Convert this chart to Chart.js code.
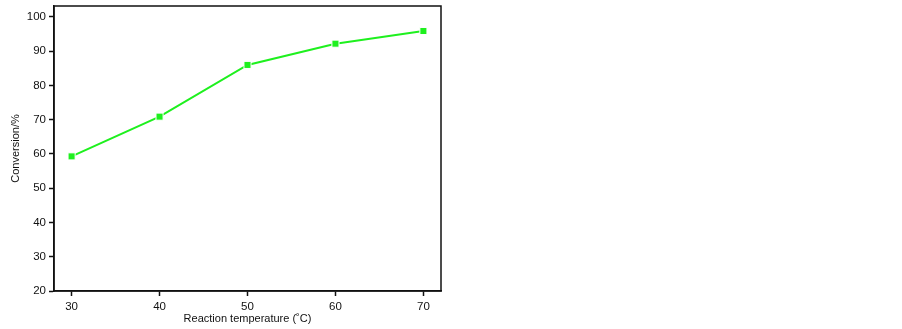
<!DOCTYPE html>
<html>
<head>
<meta charset="utf-8">
<script src="https://cdn.jsdelivr.net/npm/chart.js@4/dist/chart.umd.min.js"></script>
<style>
  html, body { margin: 0; padding: 0; background: #fff; }
  .wrap { width: 902px; height: 329px; position: relative; }
</style>
</head>
<body>
<div class="wrap"><canvas id="myChart"></canvas></div>
<script>
const temperatures=[30,40,50,60,70];
const conversion=[59.3,70.9,86.0,92.2,95.9];
const xTicks=[30,40,50,60,70];
const yTicks=[20,30,40,50,60,70,80,90,100];

const lineGreen="#1ef01e";
const fontFamily="Arial, 'Liberation Sans', sans-serif";
const tickFont={family:fontFamily,size:11.5};

// box round the plot area
const framePlugin={
    id:"frame",
    afterDraw(chart){
        const {ctx,chartArea}=chart;
        ctx.save();
        ctx.strokeStyle="#111";
        ctx.lineWidth=1.5;
        ctx.strokeRect(chartArea.left,chartArea.top,chartArea.right-chartArea.left,chartArea.bottom-chartArea.top);
        ctx.restore();
    }
};

const points=temperatures.map((t,i)=>({x:t,y:conversion[i]}));

const ctx=document.getElementById("myChart").getContext("2d");
const myChart=new Chart(ctx,{
    type:"line",
    data:{
        datasets:[{
            data:points,
            borderColor:lineGreen,
            borderWidth:2,
            backgroundColor:lineGreen,
            pointStyle:"rect",
            pointRadius:5,
            pointBorderColor:"#ffffff",
            pointBorderWidth:1,
            tension:0,
        }],
    },
    options:{
        responsive:true,
        maintainAspectRatio:false,
        animation:false,
        layout:{padding:{top:2,right:461,left:0,bottom:0}},
        plugins:{legend:{display:false},tooltip:{enabled:false}},
        scales:{
            x:{
                type:"linear",
                min:28,
                max:72,
                afterBuildTicks:(scale)=>{scale.ticks=xTicks.map(v=>({value:v}));},
                afterFit:(scale)=>{scale.height=38;scale.paddingLeft=0;scale.paddingRight=0;},
                grid:{drawOnChartArea:false,drawTicks:true,tickLength:5,tickColor:"#111",tickWidth:1.5},
                border:{color:"#111",width:1.5},
                ticks:{color:"#111",font:tickFont,padding:4,maxRotation:0},
                title:{display:true,text:"Reaction temperature (˚C)",color:"#111",font:{family:fontFamily,size:11},padding:{top:0,bottom:3}},
            },
            y:{
                type:"linear",
                min:20,
                max:103.2,
                afterBuildTicks:(scale)=>{scale.ticks=yTicks.map(v=>({value:v}));},
                afterFit:(scale)=>{scale.width=54;scale.paddingTop=0;scale.paddingBottom=0;},
                grid:{drawOnChartArea:false,drawTicks:true,tickLength:5,tickColor:"#111",tickWidth:1.5},
                border:{color:"#111",width:1.5},
                ticks:{color:"#111",font:tickFont,padding:3},
                title:{display:true,text:"Conversion/%",color:"#111",font:{family:fontFamily,size:11},padding:{top:9,bottom:0}},
            },
        },
    },
    plugins:[framePlugin],
});
</script>
</body>
</html>
